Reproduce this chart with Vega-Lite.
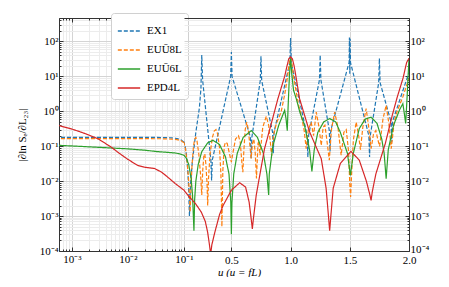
{
  "$schema": "https://vega.github.io/schema/vega-lite/v6.json",
  "padding": {"left": 16, "top": 12, "right": 0, "bottom": 0},
  "background": "white",
  "config": {
    "view": {"stroke": null},
    "font": "Liberation Serif",
    "axis": {"labelFont": "Liberation Serif", "labelFontSize": 11, "labelColor": "#000", "titleFont": "Liberation Serif", "titleFontSize": 11, "titleFontWeight": "normal", "titleColor": "#000", "domainColor": "#333", "tickColor": "#333", "domainWidth": 1, "labelFlush": false, "labelOverlap": false}
  },
  "datasets": {
    "curves": [
      {"series":"EX1","u":0.0005,"v":0.18},{"series":"EX1","u":0.01,"v":0.18},{"series":"EX1","u":0.04,"v":0.178},{"series":"EX1","u":0.06,"v":0.174},{"series":"EX1","u":0.075,"v":0.166},{"series":"EX1","u":0.088,"v":0.152},{"series":"EX1","u":0.1,"v":0.13},{"series":"EX1","u":0.11,"v":0.1},{"series":"EX1","u":0.12,"v":0.06},{"series":"EX1","u":0.13,"v":0.025},{"series":"EX1","u":0.138,"v":0.008},{"series":"EX1","u":0.146,"v":0.001},{"series":"EX1","u":0.155,"v":0.008},{"series":"EX1","u":0.17,"v":0.035},{"series":"EX1","u":0.2,"v":0.25},{"series":"EX1","u":0.23,"v":1.26},{"series":"EX1","u":0.243,"v":4.5},{"series":"EX1","u":0.25,"v":41},{"series":"EX1","u":0.257,"v":8},{"series":"EX1","u":0.327,"v":0.04},{"series":"EX1","u":0.333,"v":0.0105},{"series":"EX1","u":0.339,"v":0.04},{"series":"EX1","u":0.494,"v":10},{"series":"EX1","u":0.5,"v":50},{"series":"EX1","u":0.506,"v":10},{"series":"EX1","u":0.661,"v":0.18},{"series":"EX1","u":0.667,"v":0.045},{"series":"EX1","u":0.673,"v":0.18},{"series":"EX1","u":0.744,"v":7.6},{"series":"EX1","u":0.75,"v":38},{"series":"EX1","u":0.756,"v":7.6},{"series":"EX1","u":0.848,"v":0.25},{"series":"EX1","u":0.854,"v":0.063},{"series":"EX1","u":0.86,"v":0.25},{"series":"EX1","u":0.994,"v":25},{"series":"EX1","u":1.0,"v":126},{"series":"EX1","u":1.006,"v":25},{"series":"EX1","u":1.14,"v":0.2},{"series":"EX1","u":1.146,"v":0.049},{"series":"EX1","u":1.152,"v":0.2},{"series":"EX1","u":1.244,"v":8},{"series":"EX1","u":1.25,"v":41},{"series":"EX1","u":1.256,"v":8},{"series":"EX1","u":1.327,"v":0.28},{"series":"EX1","u":1.333,"v":0.071},{"series":"EX1","u":1.339,"v":0.28},{"series":"EX1","u":1.494,"v":25},{"series":"EX1","u":1.497,"v":130},{"series":"EX1","u":1.5,"v":12},{"series":"EX1","u":1.503,"v":120},{"series":"EX1","u":1.506,"v":25},{"series":"EX1","u":1.661,"v":0.2},{"series":"EX1","u":1.667,"v":0.049},{"series":"EX1","u":1.673,"v":0.2},{"series":"EX1","u":1.744,"v":6.6},{"series":"EX1","u":1.75,"v":33},{"series":"EX1","u":1.756,"v":6.6},{"series":"EX1","u":1.848,"v":0.5},{"series":"EX1","u":1.854,"v":0.13},{"series":"EX1","u":1.86,"v":0.5},{"series":"EX1","u":2.0,"v":13},

      {"series":"EUŪ8L","u":0.0005,"v":0.165},{"series":"EUŪ8L","u":0.04,"v":0.164},{"series":"EUŪ8L","u":0.06,"v":0.16},{"series":"EUŪ8L","u":0.075,"v":0.155},{"series":"EUŪ8L","u":0.088,"v":0.145},{"series":"EUŪ8L","u":0.1,"v":0.125},{"series":"EUŪ8L","u":0.112,"v":0.085},{"series":"EUŪ8L","u":0.125,"v":0.04},{"series":"EUŪ8L","u":0.138,"v":0.012},{"series":"EUŪ8L","u":0.146,"v":0.004},{"series":"EUŪ8L","u":0.152,"v":0.0013},{"series":"EUŪ8L","u":0.158,"v":0.005},{"series":"EUŪ8L","u":0.168,"v":0.03},{"series":"EUŪ8L","u":0.18,"v":0.1},{"series":"EUŪ8L","u":0.19,"v":0.16},{"series":"EUŪ8L","u":0.2,"v":0.18},{"series":"EUŪ8L","u":0.21,"v":0.14},{"series":"EUŪ8L","u":0.225,"v":0.06},{"series":"EUŪ8L","u":0.24,"v":0.015},{"series":"EUŪ8L","u":0.25,"v":0.004},{"series":"EUŪ8L","u":0.258,"v":0.02},{"series":"EUŪ8L","u":0.268,"v":0.055},{"series":"EUŪ8L","u":0.276,"v":0.06},{"series":"EUŪ8L","u":0.285,"v":0.03},{"series":"EUŪ8L","u":0.295,"v":0.008},{"series":"EUŪ8L","u":0.3,"v":0.002},{"series":"EUŪ8L","u":0.307,"v":0.012},{"series":"EUŪ8L","u":0.32,"v":0.06},{"series":"EUŪ8L","u":0.34,"v":0.18},{"series":"EUŪ8L","u":0.355,"v":0.27},{"series":"EUŪ8L","u":0.37,"v":0.3},{"series":"EUŪ8L","u":0.385,"v":0.22},{"series":"EUŪ8L","u":0.4,"v":0.09},{"series":"EUŪ8L","u":0.412,"v":0.015},{"series":"EUŪ8L","u":0.42,"v":0.0005},{"series":"EUŪ8L","u":0.428,"v":0.02},{"series":"EUŪ8L","u":0.44,"v":0.1},{"series":"EUŪ8L","u":0.45,"v":0.13},{"series":"EUŪ8L","u":0.465,"v":0.12},{"series":"EUŪ8L","u":0.48,"v":0.07},{"series":"EUŪ8L","u":0.5,"v":0.035},{"series":"EUŪ8L","u":0.515,"v":0.07},{"series":"EUŪ8L","u":0.535,"v":0.16},{"series":"EUŪ8L","u":0.56,"v":0.2},{"series":"EUŪ8L","u":0.575,"v":0.13},{"series":"EUŪ8L","u":0.59,"v":0.03},{"series":"EUŪ8L","u":0.597,"v":0.018},{"series":"EUŪ8L","u":0.605,"v":0.07},{"series":"EUŪ8L","u":0.617,"v":0.3},{"series":"EUŪ8L","u":0.63,"v":0.49},{"series":"EUŪ8L","u":0.643,"v":0.3},{"series":"EUŪ8L","u":0.657,"v":0.1},{"series":"EUŪ8L","u":0.667,"v":0.045},{"series":"EUŪ8L","u":0.678,"v":0.12},{"series":"EUŪ8L","u":0.69,"v":0.16},{"series":"EUŪ8L","u":0.702,"v":0.06},{"series":"EUŪ8L","u":0.712,"v":0.012},{"series":"EUŪ8L","u":0.725,"v":0.12},{"series":"EUŪ8L","u":0.732,"v":0.14},{"series":"EUŪ8L","u":0.742,"v":0.055},{"series":"EUŪ8L","u":0.765,"v":0.35},{"series":"EUŪ8L","u":0.795,"v":0.72},{"series":"EUŪ8L","u":0.815,"v":0.4},{"series":"EUŪ8L","u":0.84,"v":0.053},{"series":"EUŪ8L","u":0.855,"v":0.2},{"series":"EUŪ8L","u":0.88,"v":0.45},{"series":"EUŪ8L","u":0.92,"v":0.95},{"series":"EUŪ8L","u":0.95,"v":3},{"series":"EUŪ8L","u":0.975,"v":10},{"series":"EUŪ8L","u":0.99,"v":25},{"series":"EUŪ8L","u":1.0,"v":34},{"series":"EUŪ8L","u":1.01,"v":25},{"series":"EUŪ8L","u":1.025,"v":10},{"series":"EUŪ8L","u":1.05,"v":3.2},{"series":"EUŪ8L","u":1.07,"v":1.4},{"series":"EUŪ8L","u":1.09,"v":0.78},{"series":"EUŪ8L","u":1.115,"v":0.28},{"series":"EUŪ8L","u":1.132,"v":0.085},{"series":"EUŪ8L","u":1.15,"v":0.3},{"series":"EUŪ8L","u":1.174,"v":0.49},{"series":"EUŪ8L","u":1.194,"v":0.2},{"series":"EUŪ8L","u":1.217,"v":0.95},{"series":"EUŪ8L","u":1.24,"v":0.35},{"series":"EUŪ8L","u":1.259,"v":0.105},{"series":"EUŪ8L","u":1.275,"v":0.35},{"series":"EUŪ8L","u":1.29,"v":0.4},{"series":"EUŪ8L","u":1.31,"v":0.12},{"series":"EUŪ8L","u":1.327,"v":0.04},{"series":"EUŪ8L","u":1.345,"v":0.3},{"series":"EUŪ8L","u":1.372,"v":0.95},{"series":"EUŪ8L","u":1.4,"v":0.35},{"series":"EUŪ8L","u":1.427,"v":0.055},{"series":"EUŪ8L","u":1.45,"v":0.25},{"series":"EUŪ8L","u":1.47,"v":0.3},{"series":"EUŪ8L","u":1.49,"v":0.07},{"series":"EUŪ8L","u":1.5,"v":0.008},{"series":"EUŪ8L","u":1.507,"v":0.0035},{"series":"EUŪ8L","u":1.515,"v":0.015},{"series":"EUŪ8L","u":1.53,"v":0.15},{"series":"EUŪ8L","u":1.554,"v":0.49},{"series":"EUŪ8L","u":1.575,"v":0.2},{"series":"EUŪ8L","u":1.59,"v":0.08},{"series":"EUŪ8L","u":1.61,"v":0.35},{"series":"EUŪ8L","u":1.638,"v":1.2},{"series":"EUŪ8L","u":1.66,"v":0.35},{"series":"EUŪ8L","u":1.68,"v":0.085},{"series":"EUŪ8L","u":1.7,"v":0.22},{"series":"EUŪ8L","u":1.72,"v":0.28},{"series":"EUŪ8L","u":1.738,"v":0.15},{"series":"EUŪ8L","u":1.752,"v":0.1},{"series":"EUŪ8L","u":1.78,"v":0.6},{"series":"EUŪ8L","u":1.807,"v":1.48},{"series":"EUŪ8L","u":1.83,"v":0.45},{"series":"EUŪ8L","u":1.85,"v":0.085},{"series":"EUŪ8L","u":1.875,"v":0.5},{"series":"EUŪ8L","u":1.9,"v":1.0},{"series":"EUŪ8L","u":1.95,"v":2.7},{"series":"EUŪ8L","u":2.0,"v":8.9},

      {"series":"EUŪ6L","u":0.0005,"v":0.107},{"series":"EUŪ6L","u":0.001,"v":0.102},{"series":"EUŪ6L","u":0.003,"v":0.093},{"series":"EUŪ6L","u":0.01,"v":0.084},{"series":"EUŪ6L","u":0.02,"v":0.077},{"series":"EUŪ6L","u":0.034,"v":0.07},{"series":"EUŪ6L","u":0.05,"v":0.067},{"series":"EUŪ6L","u":0.07,"v":0.064},{"series":"EUŪ6L","u":0.085,"v":0.06},{"series":"EUŪ6L","u":0.1,"v":0.055},{"series":"EUŪ6L","u":0.12,"v":0.045},{"series":"EUŪ6L","u":0.14,"v":0.03},{"series":"EUŪ6L","u":0.16,"v":0.012},{"series":"EUŪ6L","u":0.172,"v":0.004},{"series":"EUŪ6L","u":0.184,"v":0.00038},{"series":"EUŪ6L","u":0.19,"v":0.003},{"series":"EUŪ6L","u":0.2,"v":0.01},{"series":"EUŪ6L","u":0.22,"v":0.03},{"series":"EUŪ6L","u":0.25,"v":0.07},{"series":"EUŪ6L","u":0.3,"v":0.125},{"series":"EUŪ6L","u":0.345,"v":0.148},{"series":"EUŪ6L","u":0.4,"v":0.112},{"series":"EUŪ6L","u":0.45,"v":0.05},{"series":"EUŪ6L","u":0.48,"v":0.016},{"series":"EUŪ6L","u":0.495,"v":0.0025},{"series":"EUŪ6L","u":0.5,"v":0.0003},{"series":"EUŪ6L","u":0.505,"v":0.0025},{"series":"EUŪ6L","u":0.52,"v":0.016},{"series":"EUŪ6L","u":0.55,"v":0.063},{"series":"EUŪ6L","u":0.6,"v":0.18},{"series":"EUŪ6L","u":0.668,"v":0.28},{"series":"EUŪ6L","u":0.72,"v":0.18},{"series":"EUŪ6L","u":0.77,"v":0.063},{"series":"EUŪ6L","u":0.8,"v":0.016},{"series":"EUŪ6L","u":0.815,"v":0.004},{"series":"EUŪ6L","u":0.82,"v":0.016},{"series":"EUŪ6L","u":0.85,"v":0.1},{"series":"EUŪ6L","u":0.9,"v":0.4},{"series":"EUŪ6L","u":0.95,"v":1.07},{"series":"EUŪ6L","u":0.962,"v":0.6},{"series":"EUŪ6L","u":0.972,"v":0.28},{"series":"EUŪ6L","u":0.98,"v":1.6},{"series":"EUŪ6L","u":0.99,"v":10},{"series":"EUŪ6L","u":1.0,"v":33},{"series":"EUŪ6L","u":1.01,"v":12},{"series":"EUŪ6L","u":1.025,"v":4},{"series":"EUŪ6L","u":1.048,"v":2.3},{"series":"EUŪ6L","u":1.08,"v":0.9},{"series":"EUŪ6L","u":1.118,"v":0.4},{"series":"EUŪ6L","u":1.16,"v":0.08},{"series":"EUŪ6L","u":1.18,"v":0.019},{"series":"EUŪ6L","u":1.2,"v":0.08},{"series":"EUŪ6L","u":1.23,"v":0.25},{"series":"EUŪ6L","u":1.28,"v":0.5},{"series":"EUŪ6L","u":1.33,"v":0.62},{"series":"EUŪ6L","u":1.38,"v":0.5},{"series":"EUŪ6L","u":1.42,"v":0.25},{"series":"EUŪ6L","u":1.48,"v":0.063},{"series":"EUŪ6L","u":1.505,"v":0.0145},{"series":"EUŪ6L","u":1.53,"v":0.063},{"series":"EUŪ6L","u":1.58,"v":0.32},{"series":"EUŪ6L","u":1.63,"v":0.6},{"series":"EUŪ6L","u":1.68,"v":0.68},{"series":"EUŪ6L","u":1.73,"v":0.45},{"series":"EUŪ6L","u":1.77,"v":0.16},{"series":"EUŪ6L","u":1.79,"v":0.063},{"series":"EUŪ6L","u":1.807,"v":0.0118},{"series":"EUŪ6L","u":1.825,"v":0.08},{"series":"EUŪ6L","u":1.87,"v":0.4},{"series":"EUŪ6L","u":1.92,"v":1.1},{"series":"EUŪ6L","u":1.948,"v":1.66},{"series":"EUŪ6L","u":1.962,"v":0.8},{"series":"EUŪ6L","u":1.972,"v":0.45},{"series":"EUŪ6L","u":1.985,"v":3},{"series":"EUŪ6L","u":2.0,"v":33},

      {"series":"EPD4L","u":0.0005,"v":0.42},{"series":"EPD4L","u":0.001,"v":0.31},{"series":"EPD4L","u":0.0015,"v":0.25},{"series":"EPD4L","u":0.002,"v":0.21},{"series":"EPD4L","u":0.003,"v":0.16},{"series":"EPD4L","u":0.005,"v":0.095},{"series":"EPD4L","u":0.007,"v":0.063},{"series":"EPD4L","u":0.01,"v":0.042},{"series":"EPD4L","u":0.015,"v":0.028},{"series":"EPD4L","u":0.02,"v":0.025},{"series":"EPD4L","u":0.03,"v":0.023},{"series":"EPD4L","u":0.04,"v":0.018},{"series":"EPD4L","u":0.05,"v":0.0135},{"series":"EPD4L","u":0.07,"v":0.0085},{"series":"EPD4L","u":0.1,"v":0.0055},{"series":"EPD4L","u":0.134,"v":0.0039},{"series":"EPD4L","u":0.2,"v":0.0022},{"series":"EPD4L","u":0.246,"v":0.0013},{"series":"EPD4L","u":0.28,"v":0.0007},{"series":"EPD4L","u":0.3,"v":0.00034},{"series":"EPD4L","u":0.315,"v":0.00015},{"series":"EPD4L","u":0.325,"v":0.00008},{"series":"EPD4L","u":0.335,"v":0.00015},{"series":"EPD4L","u":0.36,"v":0.00034},{"series":"EPD4L","u":0.4,"v":0.0011},{"series":"EPD4L","u":0.43,"v":0.002},{"series":"EPD4L","u":0.5,"v":0.0055},{"series":"EPD4L","u":0.57,"v":0.009},{"series":"EPD4L","u":0.62,"v":0.0068},{"series":"EPD4L","u":0.65,"v":0.0025},{"series":"EPD4L","u":0.668,"v":0.0008},{"series":"EPD4L","u":0.677,"v":0.00043},{"series":"EPD4L","u":0.687,"v":0.0009},{"series":"EPD4L","u":0.71,"v":0.004},{"series":"EPD4L","u":0.78,"v":0.085},{"series":"EPD4L","u":0.85,"v":0.65},{"series":"EPD4L","u":0.893,"v":2.3},{"series":"EPD4L","u":0.95,"v":10},{"series":"EPD4L","u":0.97,"v":20},{"series":"EPD4L","u":0.985,"v":32},{"series":"EPD4L","u":1.0,"v":36},{"series":"EPD4L","u":1.015,"v":32},{"series":"EPD4L","u":1.03,"v":20},{"series":"EPD4L","u":1.05,"v":8},{"series":"EPD4L","u":1.076,"v":2.3},{"series":"EPD4L","u":1.16,"v":0.26},{"series":"EPD4L","u":1.259,"v":0.044},{"series":"EPD4L","u":1.3,"v":0.0063},{"series":"EPD4L","u":1.32,"v":0.001},{"series":"EPD4L","u":1.33,"v":0.00038},{"series":"EPD4L","u":1.34,"v":0.001},{"series":"EPD4L","u":1.36,"v":0.0063},{"series":"EPD4L","u":1.42,"v":0.032},{"series":"EPD4L","u":1.51,"v":0.071},{"series":"EPD4L","u":1.58,"v":0.04},{"series":"EPD4L","u":1.64,"v":0.01},{"series":"EPD4L","u":1.67,"v":0.004},{"series":"EPD4L","u":1.68,"v":0.0028},{"series":"EPD4L","u":1.69,"v":0.005},{"series":"EPD4L","u":1.72,"v":0.016},{"series":"EPD4L","u":1.8,"v":0.12},{"series":"EPD4L","u":1.86,"v":0.8},{"series":"EPD4L","u":1.9,"v":2.5},{"series":"EPD4L","u":1.95,"v":9},{"series":"EPD4L","u":1.98,"v":25},{"series":"EPD4L","u":2.0,"v":33}
    ]
  },
  "spacing": 0,
  "bounds": "flush",
  "resolve": {"scale": {"x": "independent", "y": "independent"}, "legend": {"color": "independent", "strokeDash": "independent"}},
  "hconcat": [
    {
      "width": 125,
      "height": 233,
      "data": {"name": "curves"},
      "layer": [
        {
          "mark": {"type": "line", "clip": true, "strokeWidth": 1.2},
          "encoding": {
            "x": {"field": "u", "type": "quantitative", "scale": {"type": "log", "domain": [0.00059, 0.1], "nice": false},
              "axis": {"orient": "bottom", "title": null, "values": [0.0006,0.0007,0.0008,0.0009,0.001,0.002,0.003,0.004,0.005,0.006,0.007,0.008,0.009,0.01,0.02,0.03,0.04,0.05,0.06,0.07,0.08,0.09,0.1],
                "labelExpr": "datum.value == 0.001 ? '10⁻³' : datum.value == 0.01 ? '10⁻²' : datum.value == 0.1 ? '10⁻¹' : ''",
                "grid": true, "gridColor": {"condition": {"test": "indexof([0.001,0.01,0.1], datum.value) >= 0", "value": "#d4d4d4"}, "value": "#ececec"},
                "tickSize": {"condition": {"test": "indexof([0.001,0.01,0.1], datum.value) >= 0", "value": -4}, "value": -2},
                "labelPadding": 6, "minExtent": 14, "maxExtent": 14}},
            "y": {"field": "v", "type": "quantitative", "scale": {"type": "log", "domain": [0.0001, 470], "nice": false},
              "axis": {"orient": "left", "title": "|∂ln Sₑ/∂L₂₃|", "titlePadding": 8,
                "values": [0.0001,0.0002,0.0003,0.0004,0.0005,0.0006,0.0007,0.0008,0.0009,0.001,0.002,0.003,0.004,0.005,0.006,0.007,0.008,0.009,0.01,0.02,0.03,0.04,0.05,0.06,0.07,0.08,0.09,0.1,0.2,0.3,0.4,0.5,0.6,0.7,0.8,0.9,1,2,3,4,5,6,7,8,9,10,20,30,40,50,60,70,80,90,100,200,300,400],
                "labelExpr": "datum.value == 0.0001 ? '10⁻⁴' : datum.value == 0.001 ? '10⁻³' : datum.value == 0.01 ? '10⁻²' : datum.value == 0.1 ? '10⁻¹' : datum.value == 1 ? '10⁰' : datum.value == 10 ? '10¹' : datum.value == 100 ? '10²' : ''",
                "grid": true, "gridColor": {"condition": {"test": "indexof([0.0001,0.001,0.01,0.1,1,10,100], datum.value) >= 0", "value": "#d4d4d4"}, "value": "#ececec"},
                "tickSize": {"condition": {"test": "indexof([0.0001,0.001,0.01,0.1,1,10,100], datum.value) >= 0", "value": -4}, "value": -2},
                "labelPadding": 5, "minExtent": 24, "maxExtent": 24}},
            "color": {"field": "series", "type": "nominal", "scale": {"domain": ["EX1","EUŪ8L","EUŪ6L","EPD4L"], "range": ["#1f77b4","#ff7f0e","#2ca02c","#d62728"]},
              "legend": {"orient": "none", "legendX": 52, "legendY": -5, "title": null, "fillColor": "#ffffff", "strokeColor": "#d0d0d0", "cornerRadius": 3, "padding": 6, "labelFont": "Liberation Serif", "labelFontSize": 11, "labelColor": "#000", "symbolType": "stroke", "symbolSize": 500, "symbolStrokeWidth": 1.5, "rowPadding": 2, "labelOffset": 6}},
            "strokeDash": {"field": "series", "type": "nominal", "scale": {"domain": ["EX1","EUŪ8L","EUŪ6L","EPD4L"], "range": [[4,2],[4,2],[1,0],[1,0]]},
              "legend": {"orient": "none", "legendX": 52, "legendY": -5, "title": null, "fillColor": "#ffffff", "strokeColor": "#d0d0d0", "cornerRadius": 3, "padding": 6, "labelFont": "Liberation Serif", "labelFontSize": 11, "labelColor": "#000", "symbolType": "stroke", "symbolSize": 500, "symbolStrokeWidth": 1.5, "rowPadding": 2, "labelOffset": 6}}
          }
        },
        {
          "mark": {"type": "rule", "opacity": 0},
          "encoding": {
            "x": {"field": "u", "type": "quantitative", "scale": {"type": "log", "domain": [0.00059, 0.1], "nice": false},
              "axis": {"orient": "top", "title": null, "labels": false, "grid": false, "values": [0.0006,0.0007,0.0008,0.0009,0.001,0.002,0.003,0.004,0.005,0.006,0.007,0.008,0.009,0.01,0.02,0.03,0.04,0.05,0.06,0.07,0.08,0.09,0.1],
                "tickSize": {"condition": {"test": "indexof([0.001,0.01,0.1], datum.value) >= 0", "value": -4}, "value": -2},
                "minExtent": 0, "maxExtent": 0}}
          }
        }
      ],
      "resolve": {"axis": {"x": "independent"}}
    },
    {
      "width": 225,
      "height": 233,
      "data": {"name": "curves"},
      "layer": [
        {
          "mark": {"type": "line", "clip": true, "strokeWidth": 1.2},
          "encoding": {
            "x": {"field": "u", "type": "quantitative", "scale": {"type": "linear", "domain": [0.1, 2.0], "nice": false, "zero": false},
              "axis": {"orient": "bottom", "title": "u (u = fL)", "titleFontStyle": "italic", "titleX": 55, "titlePadding": 1, "values": [0.5,1.0,1.5,2.0], "format": ".1f",
                "grid": true, "gridColor": "#d4d4d4", "tickSize": -4, "labelPadding": 7, "minExtent": 14, "maxExtent": 14}},
            "y": {"field": "v", "type": "quantitative", "scale": {"type": "log", "domain": [0.0001, 470], "nice": false},
              "axis": {"orient": "right", "title": null,
                "values": [0.0001,0.0002,0.0003,0.0004,0.0005,0.0006,0.0007,0.0008,0.0009,0.001,0.002,0.003,0.004,0.005,0.006,0.007,0.008,0.009,0.01,0.02,0.03,0.04,0.05,0.06,0.07,0.08,0.09,0.1,0.2,0.3,0.4,0.5,0.6,0.7,0.8,0.9,1,2,3,4,5,6,7,8,9,10,20,30,40,50,60,70,80,90,100,200,300,400],
                "labelExpr": "datum.value == 0.0001 ? '10⁻⁴' : datum.value == 0.001 ? '10⁻³' : datum.value == 0.01 ? '10⁻²' : datum.value == 0.1 ? '10⁻¹' : datum.value == 1 ? '10⁰' : datum.value == 10 ? '10¹' : datum.value == 100 ? '10²' : ''",
                "labelOffset": {"condition": {"test": "datum.value == 0.0001", "value": -2}, "value": 0},
                "grid": true, "gridColor": {"condition": {"test": "indexof([0.0001,0.001,0.01,0.1,1,10,100], datum.value) >= 0", "value": "#d4d4d4"}, "value": "#ececec"},
                "tickSize": {"condition": {"test": "indexof([0.0001,0.001,0.01,0.1,1,10,100], datum.value) >= 0", "value": -4}, "value": -2},
                "labelPadding": 5, "minExtent": 38, "maxExtent": 38}},
            "color": {"field": "series", "type": "nominal", "scale": {"domain": ["EX1","EUŪ8L","EUŪ6L","EPD4L"], "range": ["#1f77b4","#ff7f0e","#2ca02c","#d62728"]}, "legend": null},
            "strokeDash": {"field": "series", "type": "nominal", "scale": {"domain": ["EX1","EUŪ8L","EUŪ6L","EPD4L"], "range": [[4,2],[4,2],[1,0],[1,0]]}, "legend": null}
          }
        },
        {
          "mark": {"type": "rule", "opacity": 0},
          "encoding": {
            "x": {"field": "u", "type": "quantitative", "scale": {"type": "linear", "domain": [0.1, 2.0], "nice": false, "zero": false},
              "axis": {"orient": "top", "title": null, "labels": false, "grid": false, "values": [0.5,1.0,1.5,2.0], "tickSize": -4, "minExtent": 0, "maxExtent": 0}}
          }
        }
      ],
      "resolve": {"axis": {"x": "independent"}}
    }
  ]
}
